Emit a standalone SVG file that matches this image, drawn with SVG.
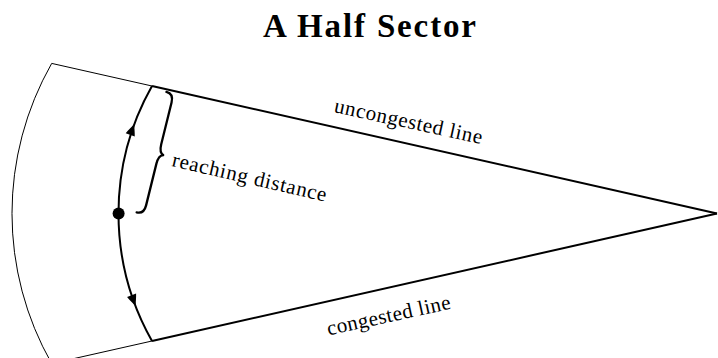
<svg xmlns="http://www.w3.org/2000/svg" width="718" height="358" viewBox="0 0 718 358">
  <style>
    .thin { fill: none; stroke: #000; stroke-width: 1; }
    .thick { fill: none; stroke: #000; stroke-width: 2; stroke-linecap: butt; }
    .lbl { font-size: 21px; fill: #000; }
    .title { font-size: 33px; font-weight: bold; fill: #000; }
  </style>
  <defs>
    <path id="ah" d="M0,0 C-3.5,-1.4 -7.5,-3.5 -11.5,-4.8 L-11.5,4.8 C-7.5,3.5 -3.5,1.4 0,0 Z" fill="#000"/>
  </defs>
  <rect width="718" height="358" fill="#fff"/>

  <g id="title">
    <text class="title" font-family="'Liberation Serif', 'DejaVu Serif', serif" x="369.5" y="37" text-anchor="middle" textLength="213" lengthAdjust="spacing">A Half Sector</text>
  </g>

  <g id="sector-outline">
    <path class="thin" d="M51.7,63.4 L152,86"/>
    <path class="thin" d="M152,341 L51.7,363.6"/>
    <path class="thin" d="M51.7,63.4 A303.6,303.6 0 0 0 51.7,363.6"/>
  </g>

  <g id="connectors">
    <path id="uncongested-line" class="thick" d="M152,86 L717,213.5"/>
    <path id="congested-line" class="thick" d="M152,341 L717,213.5"/>
    <path id="reach-arc" class="thick" d="M152,86 A259.4,259.4 0 0 0 152,341"/>
    <use href="#ah" transform="translate(134.2,124) rotate(-69.8)"/>
    <use href="#ah" transform="translate(135.6,306) rotate(69.6)"/>
  </g>

  <g id="origin-dot">
    <circle cx="118.6" cy="213.4" r="6" fill="#000"/>
  </g>

  <g id="brace">
    <path d="M-1.5,-62 C3,-62 6,-59.5 6,-53 L6,-10 C6,-4 7.5,-1 10.5,0 C7.5,1 6,4 6,10 L6,53 C6,59.5 3,62 -1.5,62" fill="none" stroke="#000" stroke-width="2.3" stroke-linecap="round" stroke-linejoin="round" transform="translate(153,152.5) rotate(13.9)"/>
  </g>

  <g id="labels" font-family="'Liberation Serif', 'DejaVu Serif', serif">
    <text class="lbl" transform="translate(171,166) rotate(13)" textLength="158" lengthAdjust="spacing">reaching distance</text>
    <text class="lbl" text-anchor="middle" transform="translate(407,128) rotate(12.3)" textLength="151" lengthAdjust="spacing">uncongested line</text>
    <text class="lbl" text-anchor="middle" transform="translate(390,322) rotate(-12.3)" textLength="126" lengthAdjust="spacing">congested line</text>
  </g>
</svg>
